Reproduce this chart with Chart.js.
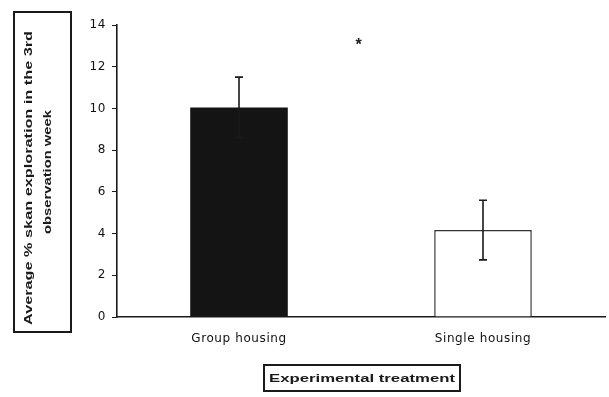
<!DOCTYPE html>
<html>
<head>
<meta charset="utf-8">
<script src="https://cdn.jsdelivr.net/npm/chart.js@4"></script>
<style>
    html, body { margin: 0; padding: 0; background: #fff; }
    #wrap { width: 609px; height: 397px; position: relative; }
</style>
</head>
<body>
<div id="wrap"><canvas id="chart" width="609" height="397"></canvas></div>
<script>
// Chart data
const categories = ['Group housing', 'Single housing'];
const means = [10.05, 4.17];
const errors = [1.45, 1.43];
const yTicks = [0, 2, 4, 6, 8, 10, 12, 14];
const yLabelLines = ['Average % skan exploration in the 3rd', 'observation week'];
const xLabel = 'Experimental treatment';
const significance = { mark: '*', x: 0.5, y: 13.2 };

const ink = '#1a1a1a';

// Stretch text horizontally to a target width (the scan has wide lettering)
function drawWideText(ctx, text, x, y, width) {
    const w = ctx.measureText(text).width;
    ctx.save();
    ctx.translate(x, y);
    ctx.scale(width / w, 1);
    ctx.fillText(text, 0, 0);
    ctx.restore();
}

// Error bars and significance mark
const errorBarPlugin = {
    id: 'errorBars',
    afterDatasetsDraw(chart) {
        const ctx = chart.ctx;
        const xs = chart.scales.x;
        const ys = chart.scales.y;
        ctx.save();
        ctx.strokeStyle = ink;
        ctx.lineWidth = 1.6;
        means.forEach((m, i) => {
            const x = xs.getPixelForValue(i);
            const top = ys.getPixelForValue(m + errors[i]);
            const bot = ys.getPixelForValue(m - errors[i]);
            ctx.beginPath();
            ctx.moveTo(x, top); ctx.lineTo(x, bot);
            ctx.moveTo(x - 4, top); ctx.lineTo(x + 4, top);
            ctx.moveTo(x - 4, bot); ctx.lineTo(x + 4, bot);
            ctx.stroke();
        });
        ctx.fillStyle = ink;
        ctx.font = 'bold 16px "Liberation Sans", Arial, sans-serif';
        ctx.textAlign = 'center';
        ctx.textBaseline = 'middle';
        ctx.fillText(significance.mark, xs.getPixelForValue(significance.x) - 2,
            ys.getPixelForValue(significance.y) + 4);
        ctx.restore();
    }
};

// Boxed axis titles
const boxedTitlesPlugin = {
    id: 'boxedTitles',
    afterDraw(chart) {
        const ctx = chart.ctx;
        ctx.save();
        ctx.letterSpacing = '0px';
        ctx.strokeStyle = ink;
        ctx.fillStyle = ink;
        ctx.lineWidth = 2;
        // y title box
        ctx.strokeRect(14, 12, 57, 320);
        ctx.font = 'bold 10px "Liberation Sans", Arial, sans-serif';
        ctx.textBaseline = 'middle';
        ctx.save();
        ctx.rotate(-Math.PI / 2);
        ctx.textAlign = 'left';
        drawWideText(ctx, yLabelLines[0], -325, 29, 294);
        const w2 = 124;
        drawWideText(ctx, yLabelLines[1], -(172 + w2 / 2), 48, w2);
        ctx.restore();
        // x title box
        ctx.strokeRect(264, 365, 196, 26);
        ctx.font = 'bold 11px "Liberation Sans", Arial, sans-serif';
        ctx.textAlign = 'left';
        drawWideText(ctx, xLabel, 269, 379, 186);
        ctx.restore();
    }
};

const wideTicks = {
    id: 'wideTicks',
    beforeDraw(chart) { chart.ctx.letterSpacing = '0.6px'; }
};

new Chart(document.getElementById('chart'), {
    type: 'bar',
    data: {
        labels: categories,
        datasets: [{
            data: means,
            backgroundColor: ['#141414', '#ffffff'],
            borderColor: [ink, '#333'],
            borderWidth: [0, 1.5],
            borderSkipped: 'bottom',
            barPercentage: 0.8,
            categoryPercentage: 0.5
        }]
    },
    options: {
        responsive: false,
        animation: false,
        layout: { padding: { top: 25, right: 4, left: 0, bottom: 0 } },
        plugins: { legend: { display: false }, tooltip: { enabled: false } },
        scales: {
            x: {
                grid: { display: true, drawOnChartArea: false, drawTicks: false },
                border: { display: true, color: ink, width: 1.6 },
                ticks: {
                    color: '#111',
                    padding: 15,
                    font: { family: '"DejaVu Sans", sans-serif', size: 12 }
                },
                afterFit(s) { s.height = 80; }
            },
            y: {
                min: 0,
                max: 14,
                afterBuildTicks(s) { s.ticks = yTicks.map(v => ({ value: v })); },
                grid: { display: true, drawOnChartArea: false, drawTicks: true, tickLength: 5, color: ink },
                border: { display: true, color: ink, width: 1.6 },
                ticks: {
                    color: '#111',
                    padding: 6,
                    font: { family: '"DejaVu Sans", sans-serif', size: 12 }
                },
                afterFit(s) { s.width = 117; }
            }
        }
    },
    plugins: [wideTicks, errorBarPlugin, boxedTitlesPlugin]
});
</script>
</body>
</html>
